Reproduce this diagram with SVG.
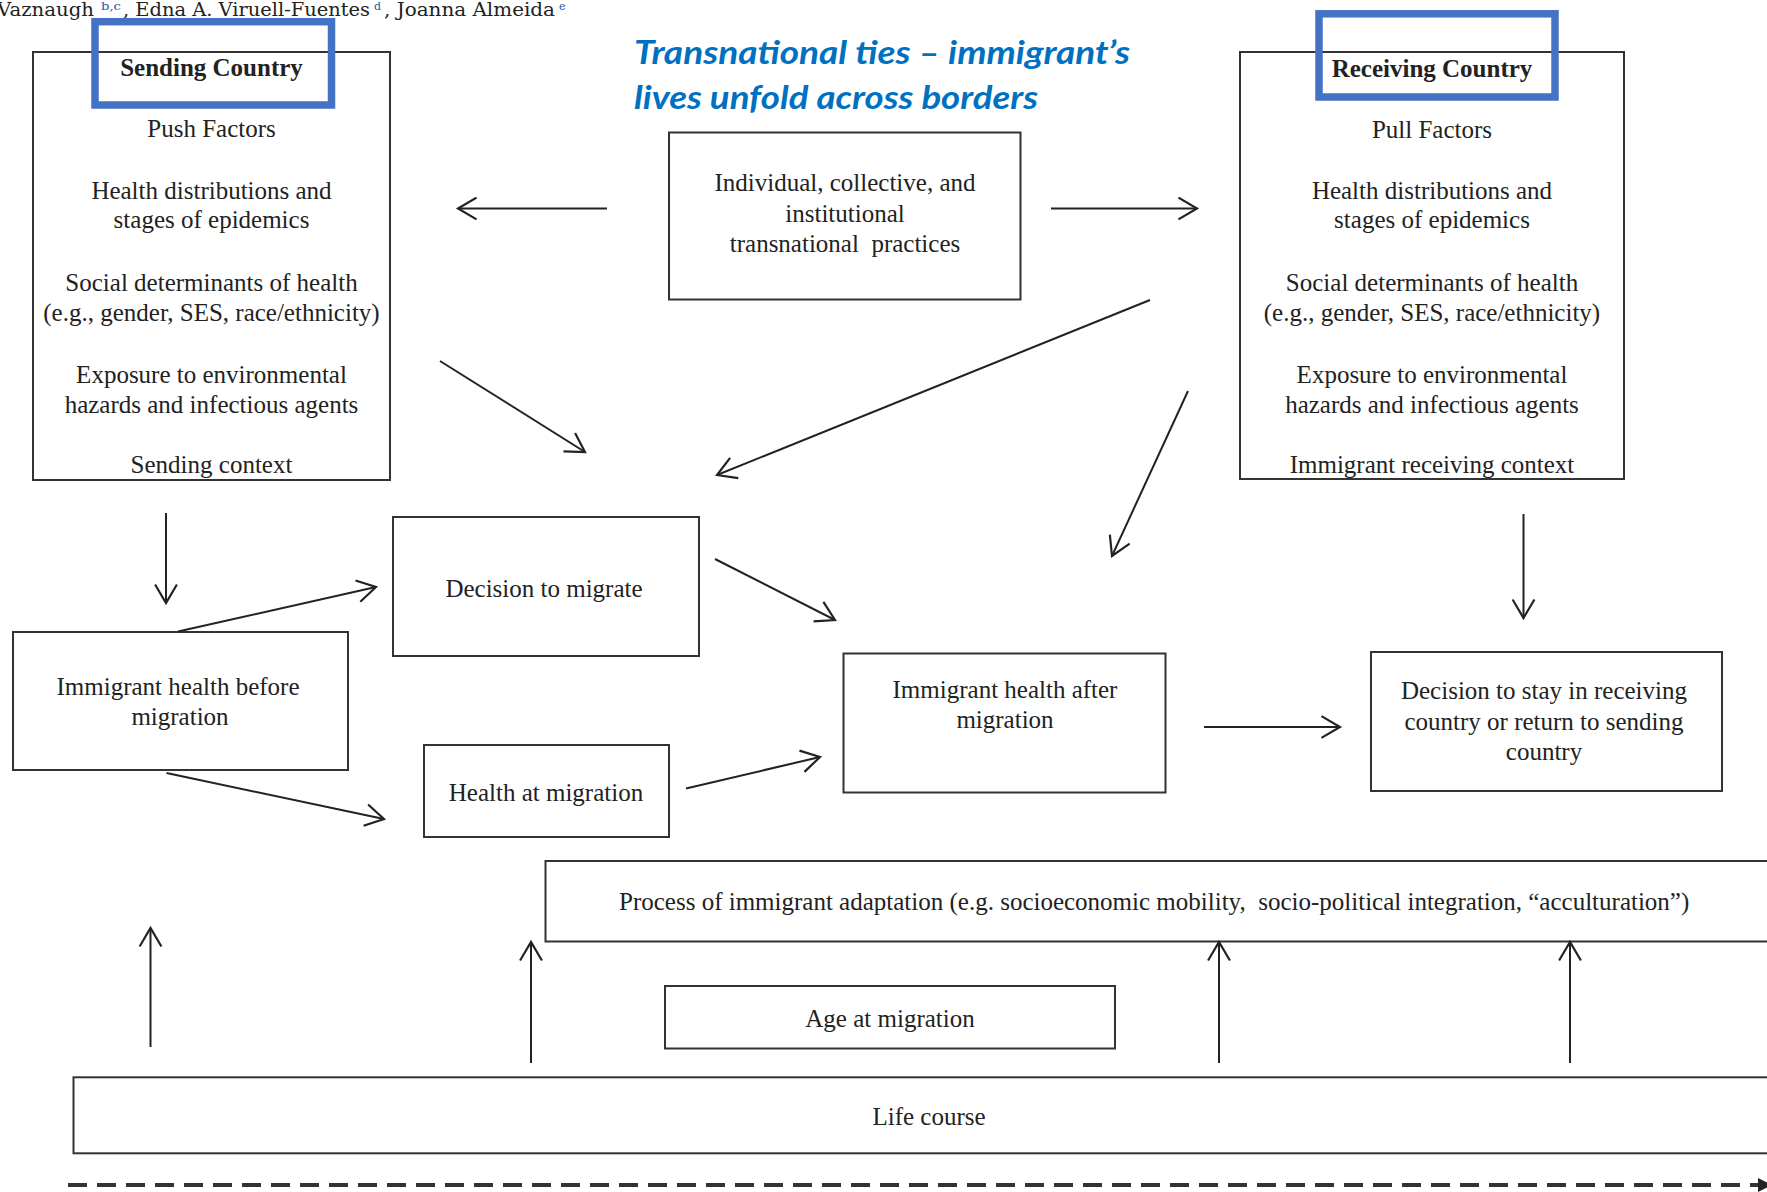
<svg xmlns="http://www.w3.org/2000/svg" width="1767" height="1192" viewBox="0 0 1767 1192">
<defs>
<style>
.box{fill:#fff;stroke:#333;stroke-width:2}
.t{font-family:"Liberation Serif","Times New Roman",serif;font-size:25px;fill:#222;text-anchor:middle}
.tb{font-weight:bold}
.hdr{font-family:"DejaVu Serif","Liberation Serif",serif;font-size:19px;fill:#222}
.sup{font-family:"DejaVu Serif","Liberation Serif",serif;font-size:11px;fill:#2b56a8}
.blue{font-family:Lato,"Open Sans",sans-serif;font-size:33px;font-weight:bold;font-style:italic;fill:#0070C0}
.hl{fill:none;stroke:#4472C4;stroke-width:7.5}
.c{fill:none;stroke:#222;stroke-width:2;marker-end:url(#ah)}
</style>
<marker id="ah" markerUnits="userSpaceOnUse" markerWidth="24" markerHeight="24" viewBox="0 0 20 22" refX="18" refY="11" orient="auto">
<path d="M1,1 L18,11 L1,21" fill="none" stroke="#222" stroke-width="2"/>
</marker>
</defs>

<g id="header">
<text class="hdr" x="-3" y="16" textLength="97" lengthAdjust="spacingAndGlyphs">Vaznaugh</text>
<text class="sup" x="101" y="10" textLength="20" lengthAdjust="spacingAndGlyphs">b,c</text>
<text class="hdr" x="123" y="16" textLength="247" lengthAdjust="spacingAndGlyphs">, Edna A. Viruell-Fuentes</text>
<text class="sup" x="374" y="10">d</text>
<text class="hdr" x="384" y="16" textLength="171" lengthAdjust="spacingAndGlyphs">, Joanna Almeida</text>
<text class="sup" x="559" y="10">e</text>
</g>

<g id="transnational-title">
<text class="blue" x="634" y="64" textLength="496" lengthAdjust="spacingAndGlyphs">Transnational ties – immigrant’s</text>
<text class="blue" x="634" y="109" textLength="404" lengthAdjust="spacingAndGlyphs">lives unfold across borders</text>
</g>

<g id="sending-country">
<rect class="box" x="33" y="52" width="357" height="428"/>
<text class="t tb" x="211.5" y="76">Sending Country</text>
<text class="t" x="211.5" y="137">Push Factors</text>
<text class="t" x="211.5" y="199">Health distributions and</text>
<text class="t" x="211.5" y="228">stages of epidemics</text>
<text class="t" x="211.5" y="291">Social determinants of health</text>
<text class="t" x="211.5" y="321">(e.g., gender, SES, race/ethnicity)</text>
<text class="t" x="211.5" y="383">Exposure to environmental</text>
<text class="t" x="211.5" y="413">hazards and infectious agents</text>
<text class="t" x="211.5" y="473">Sending context</text>
<rect class="hl" x="95" y="21.7" width="236.5" height="83.3"/>
</g>

<g id="receiving-country">
<rect class="box" x="1240" y="52" width="384" height="427"/>
<text class="t tb" x="1432" y="76.5">Receiving Country</text>
<text class="t" x="1432" y="137.5">Pull Factors</text>
<text class="t" x="1432" y="199">Health distributions and</text>
<text class="t" x="1432" y="228">stages of epidemics</text>
<text class="t" x="1432" y="291">Social determinants of health</text>
<text class="t" x="1432" y="321">(e.g., gender, SES, race/ethnicity)</text>
<text class="t" x="1432" y="383">Exposure to environmental</text>
<text class="t" x="1432" y="413">hazards and infectious agents</text>
<text class="t" x="1432" y="473">Immigrant receiving context</text>
<rect class="hl" x="1319" y="13.8" width="236" height="83.2"/>
</g>

<g id="transnational-practices">
<rect class="box" x="669" y="132.5" width="351.5" height="167"/>
<text class="t" x="845" y="191">Individual, collective, and</text>
<text class="t" x="845" y="221.5">institutional</text>
<text class="t" x="845" y="251.5" xml:space="preserve">transnational  practices</text>
</g>

<g id="decision-to-migrate">
<rect class="box" x="393" y="517" width="306" height="139"/>
<text class="t" x="544" y="597">Decision to migrate</text>
</g>

<g id="health-before">
<rect class="box" x="13" y="632" width="335" height="138"/>
<text class="t" x="178" y="695">Immigrant health before</text>
<text class="t" x="180" y="725">migration</text>
</g>

<g id="health-at-migration">
<rect class="box" x="424" y="745" width="245" height="92"/>
<text class="t" x="546" y="801">Health at migration</text>
</g>

<g id="health-after">
<rect class="box" x="843.5" y="653.5" width="322" height="139"/>
<text class="t" x="1005" y="697.5">Immigrant health after</text>
<text class="t" x="1005" y="727.5">migration</text>
</g>

<g id="decision-to-stay">
<rect class="box" x="1371" y="652" width="351" height="139"/>
<text class="t" x="1544" y="698.5">Decision to stay in receiving</text>
<text class="t" x="1544" y="729.5">country or return to sending</text>
<text class="t" x="1544" y="760">country</text>
</g>

<g id="adaptation">
<rect class="box" x="545.5" y="861" width="1240" height="80.5"/>
<text class="t" x="619" y="910" style="text-anchor:start" xml:space="preserve">Process of immigrant adaptation (e.g. socioeconomic mobility,  socio-political integration, “acculturation”)</text>
</g>

<g id="age-at-migration">
<rect class="box" x="665" y="986" width="450" height="62.5"/>
<text class="t" x="890" y="1027">Age at migration</text>
</g>

<g id="life-course">
<rect class="box" x="73.5" y="1077.3" width="1710" height="76"/>
<text class="t" x="929" y="1125">Life course</text>
</g>

<g id="connectors">
<line class="c" x1="607" y1="208.5" x2="458" y2="208.5"/>
<line class="c" x1="1051" y1="208.5" x2="1197" y2="208.5"/>
<line class="c" x1="440" y1="361" x2="585" y2="452"/>
<line class="c" x1="1150" y1="300" x2="717" y2="475"/>
<line class="c" x1="1188" y1="391" x2="1112" y2="556"/>
<line class="c" x1="166" y1="513" x2="166" y2="603"/>
<line class="c" x1="1523.5" y1="514" x2="1523.5" y2="618"/>
<line class="c" x1="178" y1="631.5" x2="376" y2="587"/>
<line class="c" x1="715" y1="559" x2="835" y2="620"/>
<line class="c" x1="166.5" y1="773" x2="384" y2="819"/>
<line class="c" x1="686" y1="788.5" x2="820" y2="757"/>
<line class="c" x1="1204" y1="727" x2="1340" y2="727"/>
<line class="c" x1="150.5" y1="1047" x2="150.5" y2="928"/>
<line class="c" x1="531" y1="1063" x2="531" y2="942"/>
<line class="c" x1="1219" y1="1063" x2="1219" y2="942"/>
<line class="c" x1="1570" y1="1063" x2="1570" y2="942"/>
<line x1="68" y1="1185" x2="1760" y2="1185" stroke="#333" stroke-width="4" stroke-dasharray="19 10"/>
<polygon points="1758,1178 1772,1185 1758,1192" fill="#222"/>
</g>
</svg>
